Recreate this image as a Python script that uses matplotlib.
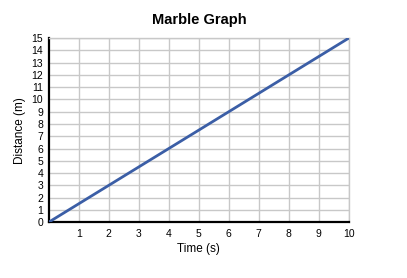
import numpy as np
import matplotlib
matplotlib.use("Agg")
import matplotlib.pyplot as plt

plt.rcParams['font.family'] = ['Liberation Sans', 'DejaVu Sans']

time_s = [0, 10]
distance_m = [0, 15]
x_ticks = list(range(1, 11))
y_ticks = list(range(0, 16))

fig = plt.figure(figsize=(4.07, 2.78), dpi=100)
ax = fig.add_axes([0.120, 0.201, 0.737, 0.662])

ax.plot(time_s, distance_m, color="#3b5ea6", lw=2, solid_capstyle="butt", zorder=3)

ax.set_xlim(0, 10)
ax.set_ylim(0, 15)
ax.set_xticks(x_ticks)
ax.set_yticks(y_ticks)
ax.tick_params(length=0, labelsize=7.5)
ax.tick_params(axis="x", pad=5)
ax.tick_params(axis="y", pad=4)
ax.grid(True, color="#c8c8c8", lw=1)
ax.set_axisbelow(True)

for s in ["top", "right"]:
    ax.spines[s].set_color("#c8c8c8")
    ax.spines[s].set_linewidth(1)
for s in ["left", "bottom"]:
    ax.spines[s].set_color("black")
    ax.spines[s].set_linewidth(1.6)

ax.set_xlabel("Time (s)", fontsize=8.5, labelpad=3)
ax.set_ylabel("Distance (m)", fontsize=8.5, labelpad=4)
ax.set_title("Marble Graph", fontsize=10.5, fontweight="bold", pad=10)

fig.savefig("out.png", dpi=100)
